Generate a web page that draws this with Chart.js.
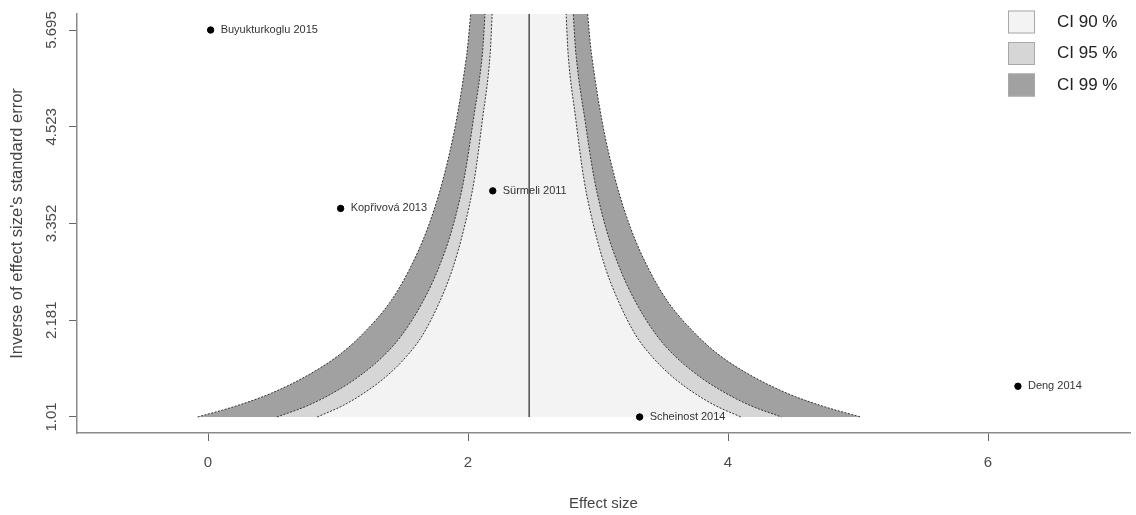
<!DOCTYPE html>
<html>
<head>
<meta charset="utf-8">
<script src="https://cdn.jsdelivr.net/npm/chart.js@4"></script>
<style>
  html, body { margin: 0; padding: 0; background: #fff; }
  #funnel { display: block; }
</style>
</head>
<body>
<canvas id="funnel" width="1136" height="515"></canvas>
<script>
// studies (effect size vs 1/SE)
const studyNames = ["Buyukturkoglu 2015", "Kopřivová 2013", "Sürmeli 2011", "Scheinost 2014", "Deng 2014"];
const effectSizes = [0.02, 1.02, 2.19, 3.32, 6.23];
const invStdErrors = [5.695, 3.535, 3.748, 1.01, 1.382];
const pooledEffect = 2.47;

// funnel edges, one x per level of 1/SE
const funnelLevels = [1.01, 1.15, 1.3, 1.5, 1.75, 2.0, 2.4, 2.8, 3.3, 3.9, 4.6, 5.4, 6.2];
const ci99Left = [-0.08, 0.23, 0.49, 0.75, 1.00, 1.18, 1.40, 1.55, 1.69, 1.81, 1.91, 1.99, 2.05];
const ci99Right = [5.02, 4.71, 4.45, 4.19, 3.94, 3.76, 3.54, 3.39, 3.25, 3.13, 3.03, 2.95, 2.89];
const ci95Left = [0.53, 0.77, 0.96, 1.16, 1.35, 1.49, 1.65, 1.77, 1.88, 1.97, 2.04, 2.11, 2.15];
const ci95Right = [4.41, 4.17, 3.98, 3.78, 3.59, 3.45, 3.29, 3.17, 3.06, 2.97, 2.90, 2.83, 2.79];
const ci90Left = [0.84, 1.04, 1.20, 1.37, 1.53, 1.65, 1.78, 1.88, 1.97, 2.05, 2.11, 2.17, 2.20];
const ci90Right = [4.10, 3.90, 3.74, 3.57, 3.41, 3.29, 3.16, 3.06, 2.97, 2.89, 2.83, 2.77, 2.74];

const ciLabels = ["CI 90 %", "CI 95 %", "CI 99 %"];
const xTicks = [0, 2, 4, 6];
const yTicks = [1.01, 2.181, 3.352, 4.523, 5.695];

Chart.defaults.font.family = "'Liberation Sans', Arial, sans-serif";
Chart.defaults.color = "#4a4a4a";

// left edge bottom -> top, then right edge top -> bottom (x keeps increasing)
function band(left, right) {
    let pts = funnelLevels.map((y, i) => ({ x: left[i], y: y }));
    for (let i = funnelLevels.length - 1; i >= 0; i--) {
        pts.push({ x: right[i], y: funnelLevels[i] });
    }
    return pts;
}

function bandDataset(label, left, right, color, order) {
    return {
        type: "line",
        label: label,
        isBand: true,
        data: band(left, right),
        backgroundColor: color,
        borderColor: "#333",
        borderWidth: 1,
        borderDash: [2, 1.5],
        pointRadius: 0,
        cubicInterpolationMode: "monotone",
        fill: { value: funnelLevels[0] },
        order: order,
    };
}

const studyLabels = {
    id: "studyLabels",
    afterDatasetsDraw(chart) {
        const meta = chart.getDatasetMeta(0);
        const ctx = chart.ctx;
        ctx.save();
        ctx.font = "11px 'Liberation Sans', Arial, sans-serif";
        ctx.fillStyle = "#333";
        ctx.textBaseline = "middle";
        meta.data.forEach((el, i) => {
            ctx.fillText(studyNames[i], el.x + 10, el.y);
        });
        ctx.restore();
    },
};

const ciLegend = {
    id: "ciLegend",
    afterDraw(chart) {
        const ctx = chart.ctx;
        const bands = chart.data.datasets.filter((d) => d.isBand);
        ctx.save();
        ctx.font = "17px 'Liberation Sans', Arial, sans-serif";
        ctx.textBaseline = "middle";
        bands.forEach((d, i) => {
            let cy = 22 + i * 31.5;
            ctx.fillStyle = d.backgroundColor;
            ctx.fillRect(1008, cy - 11.5, 27, 23);
            ctx.strokeStyle = "#a8a8a8";
            ctx.lineWidth = 1;
            ctx.strokeRect(1008.5, cy - 11, 26, 22);
            ctx.fillStyle = "#222";
            ctx.fillText(d.label, 1057, cy);
        });
        ctx.restore();
    },
};

new Chart(document.getElementById("funnel"), {
    type: "scatter",
    data: {
        datasets: [
            {
                type: "scatter",
                label: "Studies",
                data: effectSizes.map((x, i) => ({ x: x, y: invStdErrors[i] })),
                backgroundColor: "#000",
                borderColor: "#000",
                pointRadius: 3.2,
                order: 0,
            },
            {
                type: "line",
                label: "Estimate",
                data: [
                    { x: pooledEffect, y: funnelLevels[0] },
                    { x: pooledEffect, y: funnelLevels[funnelLevels.length - 1] },
                ],
                borderColor: "#222",
                borderWidth: 1.2,
                pointRadius: 0,
                fill: false,
                order: 1,
            },
            bandDataset(ciLabels[0], ci90Left, ci90Right, "#f3f3f3", 2),
            bandDataset(ciLabels[1], ci95Left, ci95Right, "#d6d6d6", 3),
            bandDataset(ciLabels[2], ci99Left, ci99Right, "#a1a1a1", 4),
        ],
    },
    options: {
        responsive: false,
        animation: false,
        devicePixelRatio: 1,
        layout: { padding: { top: 14, right: 6, left: 0, bottom: 0 } },
        plugins: {
            legend: { display: false },
            tooltip: { enabled: false },
        },
        scales: {
            x: {
                type: "linear",
                min: -1.008,
                max: 7.092,
                afterBuildTicks: (scale) => {
                    scale.ticks = xTicks.map((v) => ({ value: v }));
                },
                afterFit: (scale) => {
                    scale.height = 82;
                },
                ticks: { font: { size: 15 }, padding: 13, color: "#4a4a4a" },
                grid: { drawOnChartArea: false, drawTicks: true, tickLength: 8, color: "#666" },
                border: { display: true, color: "#8a8a8a", width: 1.5 },
                title: {
                    display: true,
                    text: "Effect size",
                    font: { size: 15 },
                    color: "#444",
                    padding: { top: 0, bottom: 2 },
                },
            },
            y: {
                type: "linear",
                min: 0.816,
                max: 5.889,
                afterBuildTicks: (scale) => {
                    scale.ticks = yTicks.map((v) => ({ value: v }));
                },
                afterFit: (scale) => {
                    scale.width = 77;
                },
                ticks: {
                    font: { size: 15 },
                    minRotation: 90,
                    maxRotation: 90,
                    crossAlign: "center",
                    padding: -2,
                    color: "#4a4a4a",
                    callback: (v) => String(v),
                },
                grid: { drawOnChartArea: false, drawTicks: true, tickLength: 8, color: "#666" },
                border: { display: true, color: "#8a8a8a", width: 1.5 },
                title: {
                    display: true,
                    text: "Inverse of effect size's standard error",
                    font: { size: 16.5 },
                    color: "#444",
                    padding: { top: 8, bottom: 0 },
                },
            },
        },
    },
    plugins: [studyLabels, ciLegend],
});
</script>
</body>
</html>
